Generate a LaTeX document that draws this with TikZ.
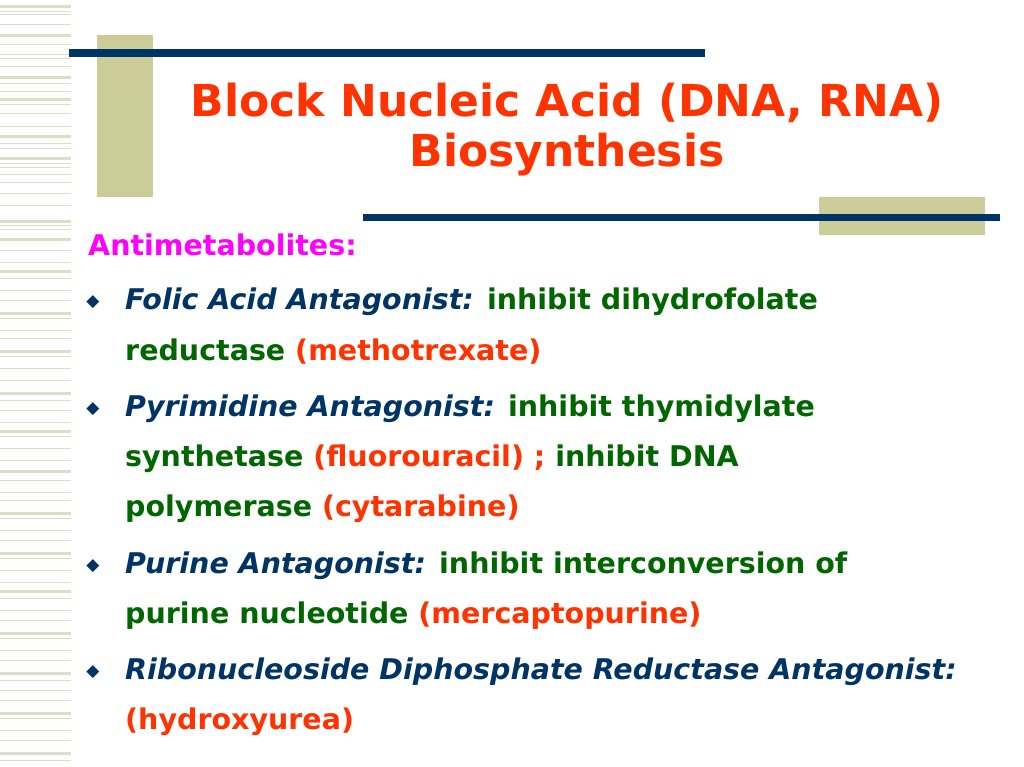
\documentclass[tikz,border=0pt]{standalone}
\usepackage{fontspec}
\setmainfont{DejaVu Sans}
\begin{document}
\begin{tikzpicture}[x=1pt,y=-1pt,
 txt/.style={anchor=west,inner sep=0pt,font=\fontsize{28.5}{30}\selectfont\bfseries},
 bul/.style={anchor=center,inner sep=0pt,font=\fontsize{17}{17}\selectfont},
 ttl/.style={anchor=center,inner sep=0pt,font=\fontsize{44}{48}\selectfont\bfseries,text=ored}]
\definecolor{tan}{RGB}{204,204,153}
\definecolor{stripe}{RGB}{222,222,200}
\definecolor{navy}{RGB}{0,51,102}
\definecolor{ored}{RGB}{255,51,0}
\definecolor{grn}{RGB}{0,102,0}
\definecolor{mag}{RGB}{255,0,255}
\fill[white] (0,0) rectangle (1024,767);
\foreach \y/\w in {5/3,11/1,14/1,24/1,34/3,44/1,54/1,58/1,66/1,76/3,83/1,91/1,98/3,104/1,113/1,126/1,135/3,143/1,148/1,157/3,163/1,167/1,174/1,182/1,193/1,205/1,220/3,225/1,229/1,238/3,250/1,262/1,270/3,278/1,290/1,300/1,312/3,318/1,330/1,338/1,350/3,356/1,368/1,380/1,392/3,400/1,410/1,422/1,430/3,436/1,448/1,460/1,470/3,480/1,492/1,500/1,512/3,518/1,530/1,540/1,552/3,558/1,570/1,582/1,590/3,598/1,610/1,620/1,632/3,638/1,650/1,660/1,672/3,680/1,690/1,700/1,712/3,718/1,730/1,740/1,752/3,760/1}
  \fill[stripe] (0,\y) rectangle (71,\y+\w);
\fill[tan] (97,35) rectangle (153,197);
\fill[navy] (69,49) rectangle (705,57);
\fill[tan] (819,197) rectangle (985,235);
\fill[navy] (363,214) rectangle (1000,221);
\node[ttl] (t1) at (567,103) {Block Nucleic Acid (DNA, RNA)};
\node[ttl] (t2) at (567,155) {Biosynthesis};
\node[txt,text=mag] (am) at (88,245) {Antimetabolites:};
\foreach \y [count=\i] in {302,409,566,672} \node[bul,text=navy] (b\i) at (93,\y) {◆};
\node[txt] (l1) at (125,302) {\textcolor{navy}{\itshape Folic Acid Antagonist:} \textcolor{grn}{inhibit dihydrofolate}};
\node[txt] (l2) at (125,352) {\textcolor{grn}{reductase} \textcolor{ored}{(methotrexate)}};
\node[txt] (l3) at (125,409) {\textcolor{navy}{\itshape Pyrimidine Antagonist:} \textcolor{grn}{inhibit thymidylate}};
\node[txt] (l4) at (125,459) {\textcolor{grn}{synthetase} \textcolor{ored}{(fluorouracil) ;} \textcolor{grn}{inhibit DNA}};
\node[txt] (l5) at (125,509) {\textcolor{grn}{polymerase} \textcolor{ored}{(cytarabine)}};
\node[txt] (l6) at (125,566) {\textcolor{navy}{\itshape Purine Antagonist:} \textcolor{grn}{inhibit interconversion of}};
\node[txt] (l7) at (125,616) {\textcolor{grn}{purine nucleotide} \textcolor{ored}{(mercaptopurine)}};
\node[txt] (l8) at (125,672) {\textcolor{navy}{\itshape Ribonucleoside Diphosphate Reductase Antagonist:}};
\node[txt] (l9) at (125,722) {\textcolor{ored}{(hydroxyurea)}};
\end{tikzpicture}
\end{document}
